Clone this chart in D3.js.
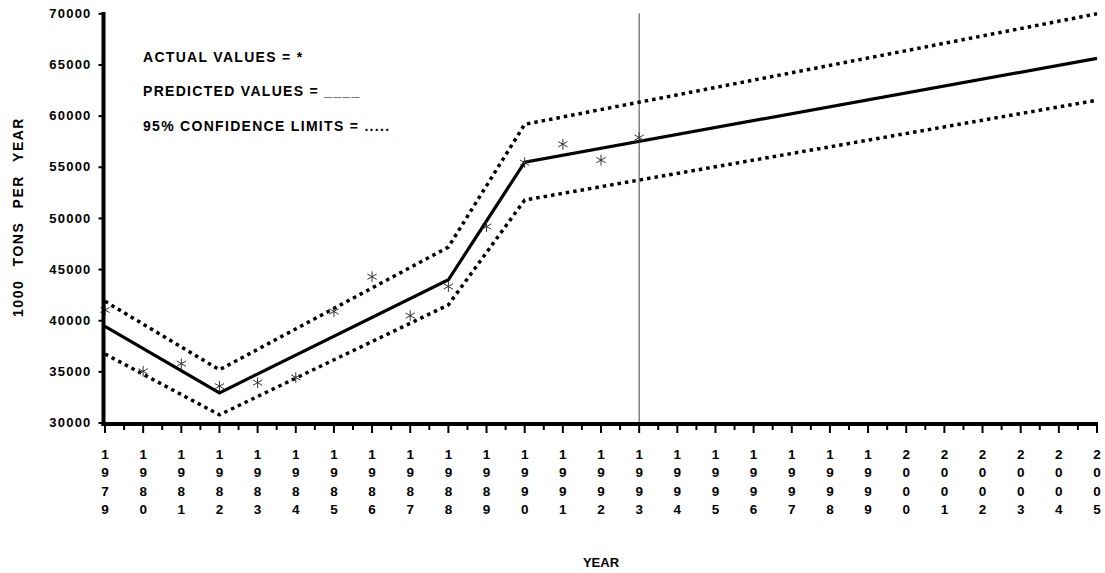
<!DOCTYPE html>
<html>
<head>
<meta charset="utf-8">
<script src="https://cdn.jsdelivr.net/npm/d3@7"></script>
<style>
  html, body { margin: 0; padding: 0; background: #fff; }
  svg { display: block; }
  text { font-family: "Liberation Sans", Arial, sans-serif; fill: #000; }
</style>
</head>
<body>
<svg id="chart" width="1105" height="573"></svg>
<script>
// ---- data ----
const xTickYears = [1979,1980,1981,1982,1983,1984,1985,1986,1987,1988,1989,1990,1991,1992,1993,1994,1995,1996,1997,1998,1999,2000,2001,2002,2003,2004,2005];
const yTickValues = [30000,35000,40000,45000,50000,55000,60000,65000,70000];

const actualYears  = [1979,1980,1981,1982,1983,1984,1985,1986,1987,1988,1989,1990,1991,1992,1993];
const actualValues = [41000,35000,35750,33550,33900,34400,40850,44250,40450,43300,49150,55400,57200,55650,57850];

const fitYears        = [1979,1982,1988,1990,2005];
const predictedValues = [39400,32900,43950,55450,65600];
const upperValues     = [41850,35150,47150,59150,69950];
const lowerValues     = [36700,30750,41500,51750,61500];

const referenceYear = 1993;

const legendLines = ["ACTUAL VALUES = *", "PREDICTED VALUES = ____", "95% CONFIDENCE LIMITS = ....."];
const yTitle = "1000 TONS PER YEAR";
const xTitle = "YEAR";

// ---- layout ----
const svg = d3.select("#chart");
const x = d3.scaleLinear().domain([1979, 2005]).range([105, 1097]);
const y = d3.scaleLinear().domain([30000, 70000]).range([422.5, 13.3]);

// reference vertical line
svg.append("line")
  .attr("x1", x(referenceYear)).attr("x2", x(referenceYear))
  .attr("y1", y(70000)).attr("y2", 424)
  .attr("stroke", "#444").attr("stroke-width", 1);

// lines
const line = d3.line().x(d => x(d[0])).y(d => y(d[1]));
const predicted = fitYears.map((yr, i) => [yr, predictedValues[i]]);
const upper = fitYears.map((yr, i) => [yr, upperValues[i]]);
const lower = fitYears.map((yr, i) => [yr, lowerValues[i]]);

[upper, lower].forEach(d => {
  svg.append("path").datum(d).attr("d", line)
    .attr("fill", "none").attr("stroke", "#000")
    .attr("stroke-width", 3.5).attr("stroke-dasharray", "3.5,4");
});
svg.append("path").datum(predicted).attr("d", line)
  .attr("fill", "none").attr("stroke", "#000").attr("stroke-width", 3.2)
  .attr("stroke-linejoin", "miter");

// actual values (asterisks)
const star = d3.symbol().type(d3.symbolAsterisk).size(80);
svg.append("g").selectAll("path")
  .data(actualYears.map((yr, i) => [yr, actualValues[i]]))
  .join("path")
  .attr("transform", d => `translate(${x(d[0])},${y(d[1])})`)
  .attr("d", star)
  .attr("fill", "none").attr("stroke", "#333").attr("stroke-width", 1);

// y axis
const yAxis = d3.axisLeft(y).tickValues(yTickValues).tickSize(5).tickPadding(7)
  .tickFormat(d3.format("d"));
const gy = svg.append("g").attr("transform", "translate(103.5,0)").call(yAxis);
gy.select(".domain").remove();
gy.selectAll(".tick line").attr("stroke", "#000").attr("stroke-width", 2);
gy.selectAll(".tick text")
  .attr("font-size", 13).attr("font-weight", "bold")
  .attr("letter-spacing", "1.2px").attr("fill", "#000");
svg.append("line").attr("x1", 103.5).attr("x2", 103.5)
  .attr("y1", 12).attr("y2", 426).attr("stroke", "#000").attr("stroke-width", 4);

// x axis
const gx = svg.append("g").attr("transform", "translate(0,424)");
gx.append("line").attr("x1", 101.5).attr("x2", 1098)
  .attr("y1", 0).attr("y2", 0).attr("stroke", "#000").attr("stroke-width", 4);
gx.selectAll("line.major").data(xTickYears).join("line").attr("class", "major")
  .attr("x1", d => x(d)).attr("x2", d => x(d))
  .attr("y1", 0).attr("y2", 9).attr("stroke", "#000").attr("stroke-width", 2);
gx.selectAll("line.minor").data(xTickYears.slice(0, -1)).join("line").attr("class", "minor")
  .attr("x1", d => x(d + 0.5)).attr("x2", d => x(d + 0.5))
  .attr("y1", 0).attr("y2", 6).attr("stroke", "#000").attr("stroke-width", 2);

const lab = gx.selectAll("text.yr").data(xTickYears).join("text").attr("class", "yr")
  .attr("text-anchor", "middle").attr("font-size", 13.5).attr("font-weight", "bold");
lab.each(function(d) {
  const t = d3.select(this);
  String(d).split("").forEach((c, i) => {
    t.append("tspan").attr("x", x(d)).attr("y", 35 + i * 18.3).text(c);
  });
});

// titles
svg.append("text").attr("x", 601).attr("y", 567).attr("text-anchor", "middle")
  .attr("font-size", 13).attr("font-weight", "bold").text(xTitle);
svg.append("text").attr("transform", "translate(23,217) rotate(-90)")
  .attr("text-anchor", "middle").attr("font-size", 14).attr("font-weight", "bold")
  .attr("letter-spacing", "1.5px").attr("word-spacing", "8px").text(yTitle);

// legend
svg.append("g").selectAll("text").data(legendLines).join("text")
  .attr("x", 143).attr("y", (d, i) => 61.5 + i * 34.7)
  .attr("font-size", 14).attr("font-weight", "bold").attr("letter-spacing", "1.3px")
  .text(d => d);
</script>
</body>
</html>
